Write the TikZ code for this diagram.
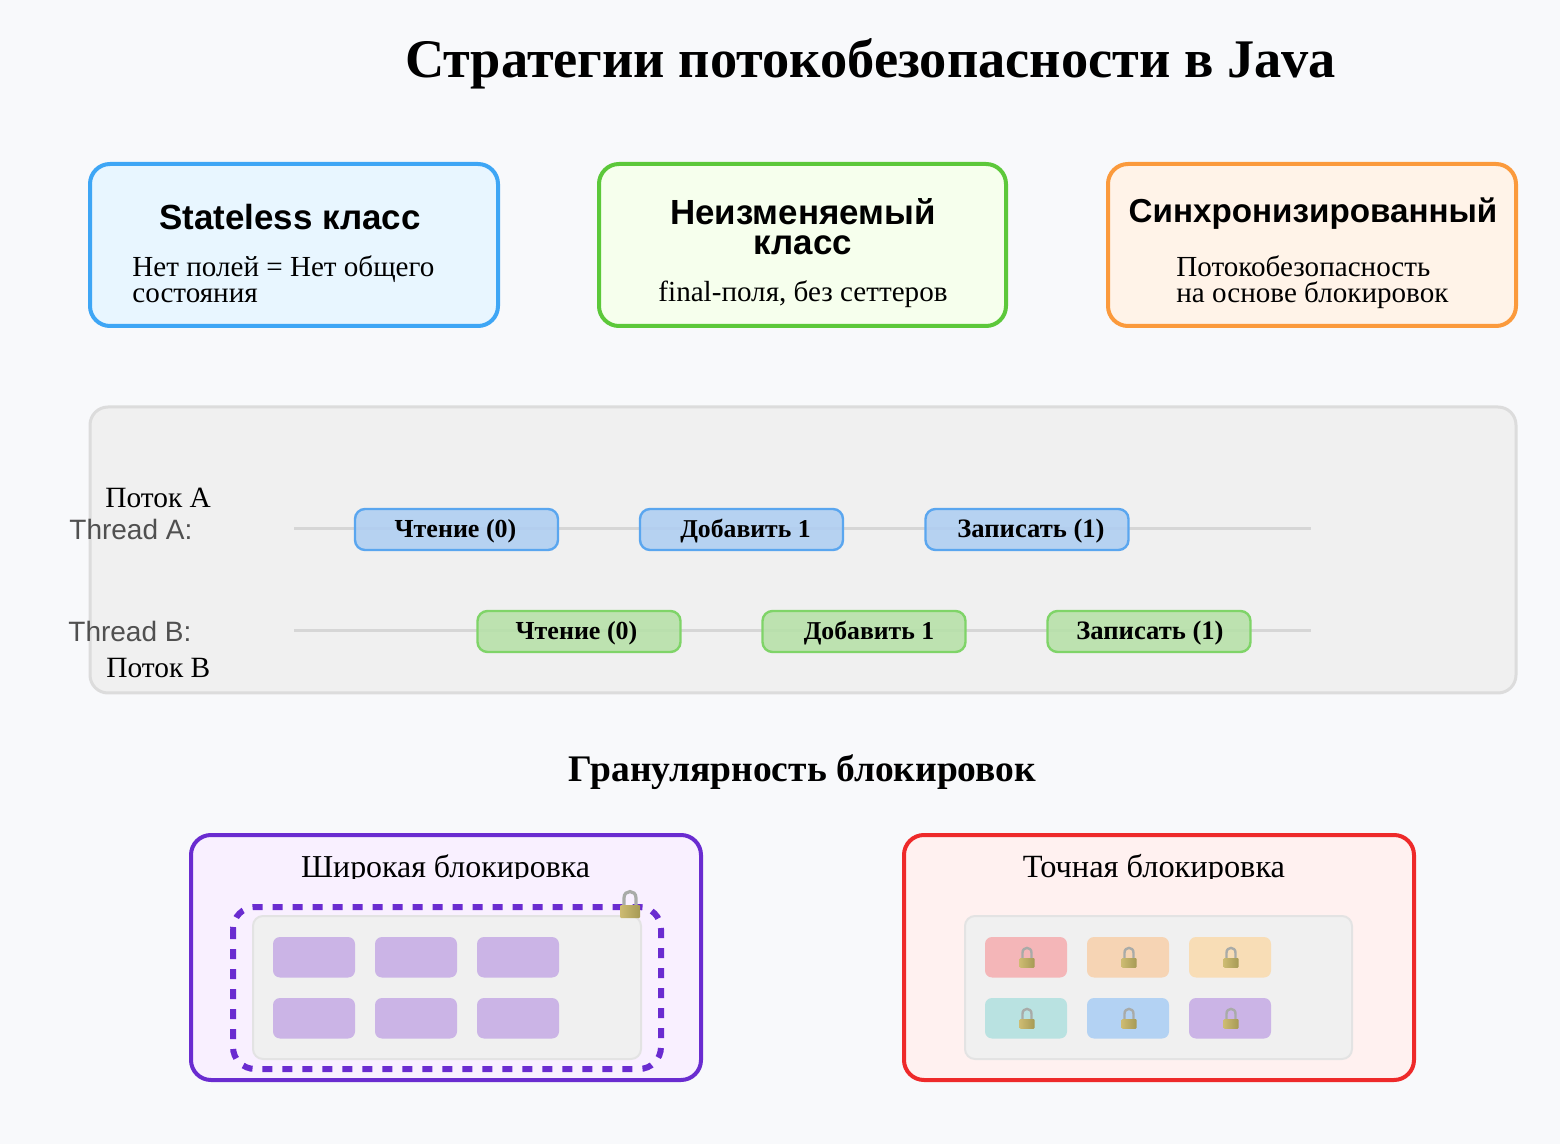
\documentclass[tikz,border=0pt]{standalone}
\usepackage{fontspec}
\setmainfont{Liberation Serif}
\setsansfont{Liberation Sans}
\definecolor{bgc}{HTML}{F8F9FB}
\definecolor{panelc}{HTML}{F0F0F0}
\definecolor{paneld}{HTML}{DCDCDC}
\definecolor{blued}{HTML}{3EA6F5}\definecolor{bluef}{HTML}{E8F6FF}
\definecolor{greend}{HTML}{5CC83A}\definecolor{greenf}{HTML}{F6FFED}
\definecolor{orangd}{HTML}{FB9A3C}\definecolor{orangf}{HTML}{FFF3E8}
\definecolor{purpd}{HTML}{6A2CD0}\definecolor{purpf}{HTML}{F9F0FF}
\definecolor{redd}{HTML}{EE2A2A}\definecolor{redf}{HTML}{FFF1F0}
\definecolor{lineg}{HTML}{D6D6D6}
\definecolor{opbd}{HTML}{5AA6EF}\definecolor{opbf}{HTML}{AFCEF2}
\definecolor{opgd}{HTML}{7FD468}\definecolor{opgf}{HTML}{B6E1A8}
\definecolor{cellp}{HTML}{CBB4E6}
\definecolor{cellr}{HTML}{F4B6B8}\definecolor{cello}{HTML}{F6D4B4}
\definecolor{celly}{HTML}{F8DDB6}\definecolor{cellt}{HTML}{B9E2E1}
\definecolor{cellb}{HTML}{B3D2F3}
\definecolor{lockl}{HTML}{CDBB72}\definecolor{lockr}{HTML}{A69A55}\definecolor{locks}{HTML}{A9ABA8}
\definecolor{threadc}{HTML}{505050}
\newcommand{\optxt}[3]{\hspace*{#1pt}\raisebox{-3.8pt}[0pt][0pt]{\fontsize{#2}{14}\selectfont #3}}
\tikzset{
  x=0.5pt,y=-0.5pt,
  card/.style={draw=#1,line width=2pt,rounded corners=10pt},
  panelbox/.style={draw=paneld,fill=panelc,line width=1.5pt,rounded corners=9pt},
  innerbox/.style={draw=black!11,fill=panelc,line width=1pt,rounded corners=5pt},
  cell/.style={fill=#1,rounded corners=3.5pt},
  track/.style={draw=lineg,line width=1.5pt},
  opbox/.style={rectangle,rounded corners=5pt,line width=1.2pt,minimum width=101.5pt,minimum height=20.5pt,inner sep=0pt,font=\bfseries,text=black},
  opa/.style={opbox,draw=opbd,fill=opbf,fill opacity=.88,text opacity=1},
  opb/.style={opbox,draw=opgd,fill=opgf,fill opacity=.88,text opacity=1},
  cardtitle/.style={font=\sffamily\bfseries\fontsize{17.45}{15}\selectfont,align=center,inner sep=0pt},
  carddesc/.style={font=\fontsize{14.55}{13}\selectfont,align=left,inner sep=0pt},
  sublabel/.style={font=\fontsize{14.7}{15}\selectfont,inner sep=0pt},
  threadlabel/.style={font=\sffamily\fontsize{14}{14}\selectfont,text=threadc,inner sep=0pt},
  pics/lockicon/.style={code={
    \draw[locks,line width=#1*0.08pt] (-0.3*#1,0) -- (-0.3*#1,-0.35*#1) .. controls (-0.3*#1,-0.78*#1) and (0.3*#1,-0.78*#1) .. (0.3*#1,-0.35*#1) -- (0.3*#1,0);
    \shade[left color=lockl,right color=lockr,rounded corners=0.5pt] (-0.5*#1,0) rectangle (0.5*#1,0.65*#1);
  }},
}
\begin{document}
\begin{tikzpicture}
\useasboundingbox (0,0) rectangle (1560,1144);
\fill[bgc] (0,0) rectangle (1560,1144);

\node[inner sep=0pt,font=\bfseries\fontsize{27.2}{27}\selectfont] (title) at (870.5,63.5) {Стратегии потокобезопасности в Java};

% cards
\draw[card=blued,fill=bluef] (90,164) rectangle (498,326);
\draw[card=greend,fill=greenf] (599,164) rectangle (1006,326);
\draw[card=orangd,fill=orangf] (1108,164) rectangle (1516,326);
\node[cardtitle] (t1) at (290,217) {Stateless класс};
\node[cardtitle] (t2) at (803,227) {Неизменяемый\\класс};
\node[cardtitle,font=\sffamily\bfseries\fontsize{16.6}{15}\selectfont] (t3) at (1313,213.5) {Синхронизированный};
\node[carddesc,anchor=north west] (d1) at (132,255) {Нет полей = Нет общего\\состояния};
\node[carddesc] (d2) at (803,294) {final-поля, без сеттеров};
\node[carddesc,anchor=north west] (d3) at (1176,255) {Потокобезопасность\\на основе блокировок};

% panel
\draw[panelbox] (90,407) rectangle (1516,693);
\coordinate (a0) at (294,529); \coordinate (a1) at (1311,529);
\coordinate (b0) at (294,631); \coordinate (b1) at (1311,631);
\draw[track] (a0) -- (a1);
\draw[track] (b0) -- (b1);
\node[opa] (ar) at (456.5,529.5) {\optxt{-1}{13}{Чтение (0)}};
\node[opa] (aa) at (741.5,529.5) {\optxt{4}{12.85}{Добавить 1}};
\node[opa] (aw) at (1027,529.5) {\optxt{4}{13.3}{Записать (1)}};
\node[opb] (br) at (579,631.5) {\optxt{-2.5}{13}{Чтение (0)}};
\node[opb] (ba) at (864,631.5) {\optxt{5}{12.85}{Добавить 1}};
\node[opb] (bw) at (1149,631.5) {\optxt{1}{13.3}{Записать (1)}};
\node[sublabel,anchor=base west] (pa) at (105,507.5) {Поток A};
\node[threadlabel,anchor=base west] (ta) at (69,540) {Thread A:};
\node[threadlabel,anchor=base west] (tb) at (68,642) {Thread B:};
\node[sublabel,anchor=base west] (pb) at (106,677.5) {Поток B};

\node[inner sep=0pt,font=\bfseries\fontsize{18.75}{19}\selectfont] (gran) at (802.5,772) {Гранулярность блокировок};

% coarse
\draw[card=purpd,fill=purpf] (191,835) rectangle (701,1080);
\begin{scope}
  \clip (191,845) rectangle (701,878);
  \node[font=\fontsize{15.95}{16}\selectfont,inner sep=0pt,anchor=base] (cl) at (445.5,877.5) {Широкая блокировка};
\end{scope}
\draw[innerbox] (253,916) rectangle (641,1059);
\foreach \xa in {273,375,477}
  \foreach \ya in {937,998}
    \fill[cell=cellp] (\xa,\ya) rectangle ++(82,40.5);
\draw[purpd,line width=3pt,dash pattern=on 5pt off 5pt,rounded corners=11pt] (233,907) rectangle (661,1069);
\pic at (630,905) {lockicon=20};

% fine
\draw[card=redd,fill=redf] (904,835) rectangle (1414,1080);
\begin{scope}
  \clip (904,845) rectangle (1414,878);
  \node[font=\fontsize{16.2}{16}\selectfont,inner sep=0pt,anchor=base] (fl) at (1154,877.5) {Точная блокировка};
\end{scope}
\draw[innerbox] (965,916) rectangle (1352,1059);
\foreach \xa/\ya/\c in {985/937/cellr,1087/937/cello,1189/937/celly,985/998/cellt,1087/998/cellb,1189/998/cellp}{
  \fill[cell=\c] (\xa,\ya) rectangle ++(82,40.5);
  \pic at (\xa+42,\ya+21) {lockicon=15};
}
\end{tikzpicture}
\end{document}
